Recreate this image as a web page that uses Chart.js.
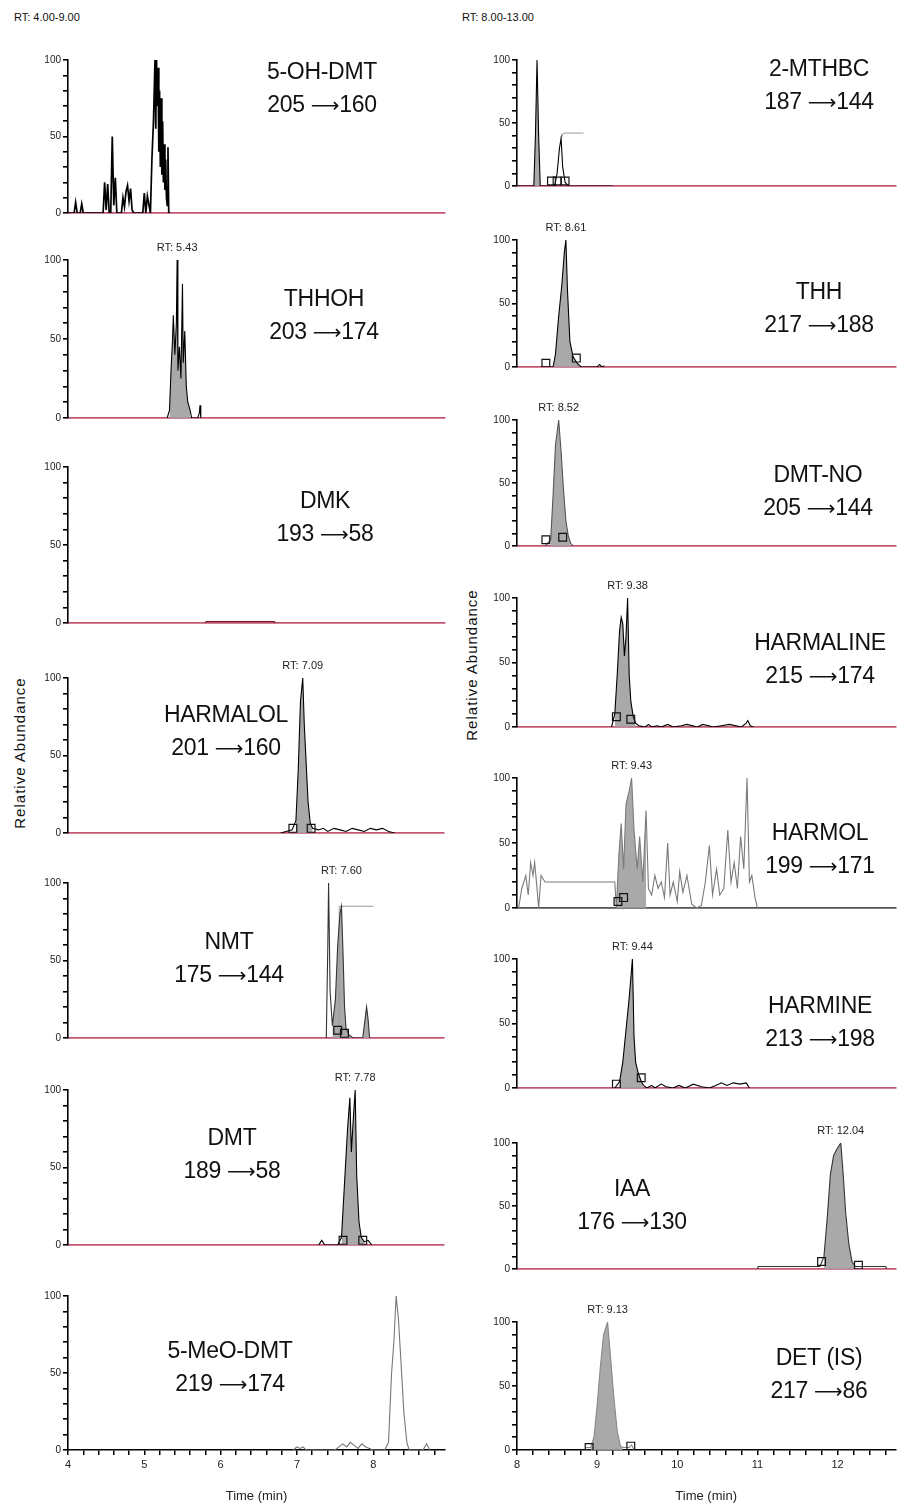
<!DOCTYPE html>
<html>
<head>
<meta charset="utf-8">
<title>MRM chromatograms</title>
<script src="https://cdn.jsdelivr.net/npm/chart.js@4.4.1/dist/chart.umd.min.js"></script>
<style>
  body { margin: 0; background: #fff; }
  #page { position: relative; width: 902px; height: 1511px; overflow: hidden;
          font-family: 'Liberation Sans', Arial, sans-serif; color: #111; }
  #page canvas { position: absolute; }
  .cmp { position: absolute; transform: translate(-50%, -50%); font-size: 23px;
         line-height: 33px; white-space: nowrap; text-align: center; letter-spacing: -0.3px; }
  .arrow { font-family: 'DejaVu Sans', sans-serif; font-size: 20px; }
  .range { position: absolute; font-size: 11px; }
  .ylab { position: absolute; font-size: 15px; white-space: nowrap; letter-spacing: 1px;
          transform: translate(-50%, -50%) rotate(-90deg); }
</style>
</head>
<body>
<div id="page">
  <div class="range" style="left:14px;top:11px;">RT: 4.00-9.00</div>
  <div class="range" style="left:462px;top:11px;">RT: 8.00-13.00</div>
  <div class="ylab" style="left:19px;top:753px;">Relative Abundance</div>
  <div class="ylab" style="left:471px;top:665px;">Relative Abundance</div>
</div>
<script>
// ---- left column traces (time in min, relative abundance in %) ----
const ohDmtTime = [
  4.00, 4.08, 4.10, 4.12, 4.16, 4.18, 4.20, 4.46, 4.48, 4.50,
  4.52, 4.54, 4.56, 4.58, 4.60, 4.62, 4.64, 4.70, 4.72, 4.74,
  4.76, 4.78, 4.80, 4.82, 4.84, 4.86, 4.98, 5.00, 5.02, 5.04,
  5.08, 5.10, 5.12, 5.13, 5.14, 5.15, 5.16, 5.17, 5.18, 5.19,
  5.20, 5.21, 5.22, 5.23, 5.24, 5.25, 5.26, 5.27, 5.28, 5.29,
  5.30, 5.31, 5.32, 5.34];
const ohDmtAbund = [
  0, 0, 7, 0, 0, 6, 0, 0, 20, 2,
  19, 0, 0, 50, 5, 23, 0, 0, 10, 4,
  14, 18, 8, 16, 2, 0, 0, 13, 0, 11,
  0, 36, 60, 80, 100, 55, 100, 70, 95, 40,
  80, 30, 75, 25, 60, 20, 45, 15, 35, 10,
  5, 43, 0, 0];

const thhohTime = [5.30, 5.33, 5.35, 5.37, 5.38, 5.40, 5.42, 5.43, 5.44, 5.46, 5.48, 5.50, 5.51, 5.53, 5.55, 5.57, 5.60, 5.62, 5.70, 5.72, 5.73, 5.74];
const thhohAbund = [0, 5, 30, 50, 65, 40, 60, 100, 30, 45, 25, 85, 35, 55, 20, 10, 5, 0, 0, 3, 8, 0];

const dmkTime = [5.80, 5.81, 6.70, 6.71];
const dmkAbund = [0, 1, 1, 0];

const harmalolTime = [6.80, 6.95, 7.00, 7.03, 7.06, 7.09, 7.11, 7.13, 7.16, 7.19, 7.22, 7.30, 7.36, 7.42, 7.50, 7.58, 7.66, 7.74, 7.82, 7.90, 7.98, 8.06, 8.14, 8.22, 8.30];
const harmalolAbund = [0, 2, 8, 40, 85, 100, 70, 50, 20, 6, 3, 2, 3, 1, 3, 2, 1, 3, 2, 1, 3, 2, 3, 1, 0];
const harmalolMarkT = [6.96, 7.20];
const harmalolMarkA = [3, 3];

const nmtTime = [7.40, 7.42, 7.43, 7.45, 7.48, 7.52, 7.55, 7.58, 7.60, 7.62, 7.64, 7.66, 7.70, 7.75, 7.88, 7.91, 7.93, 7.95, 7.97];
const nmtAbund = [0, 60, 100, 30, 8, 25, 60, 80, 85, 55, 20, 6, 2, 0, 0, 12, 20, 12, 0];
const nmtLeaderT = [7.57, 7.57, 8.02];
const nmtLeaderA = [0, 85, 85];
const nmtMarkT = [7.55, 7.64];
const nmtMarkA = [5, 3];

const dmtTime = [7.30, 7.34, 7.38, 7.55, 7.60, 7.64, 7.68, 7.71, 7.73, 7.76, 7.78, 7.80, 7.83, 7.86, 7.90, 7.95, 8.00];
const dmtAbund = [0, 3, 0, 0, 5, 40, 75, 95, 60, 85, 100, 45, 15, 5, 2, 3, 0];
const dmtMarkT = [7.62, 7.88];
const dmtMarkA = [3, 3];

const meoDmtTime = [6.95, 7.00, 7.04, 7.08, 7.12, 7.50, 7.55, 7.60, 7.65, 7.70, 7.75, 7.80, 7.85, 7.90, 7.95, 8.00, 8.15, 8.20, 8.24, 8.27, 8.30, 8.33, 8.36, 8.40, 8.44, 8.47, 8.65, 8.70, 8.74];
const meoDmtAbund = [0, 2, 1, 2, 0, 0, 2, 4, 2, 5, 3, 1, 4, 2, 1, 0, 0, 5, 50, 70, 100, 85, 60, 25, 5, 0, 0, 4, 0];

// ---- right column traces ----
const mthbcTime = [8.00, 8.21, 8.23, 8.25, 8.27, 8.29, 8.47, 8.50, 8.53, 8.55, 8.57, 8.60, 8.64, 9.20];
const mthbcAbund = [0, 0, 40, 100, 40, 0, 0, 10, 30, 38, 15, 3, 0, 0];
const mthbcLeaderT = [8.55, 8.58, 8.83];
const mthbcLeaderA = [38, 42, 42];
const mthbcMarkT = [8.43, 8.50, 8.60];
const mthbcMarkA = [4, 4, 4];

const thhTime = [8.30, 8.45, 8.48, 8.52, 8.56, 8.59, 8.61, 8.63, 8.66, 8.70, 8.75, 8.80, 9.00, 9.03, 9.06, 9.09];
const thhAbund = [0, 0, 10, 40, 65, 90, 100, 60, 20, 8, 3, 0, 0, 2, 0, 1];
const thhMarkT = [8.36, 8.74];
const thhMarkA = [3, 7];

const dmtNoTime = [8.35, 8.42, 8.45, 8.48, 8.52, 8.55, 8.58, 8.61, 8.64, 8.67, 8.70];
const dmtNoAbund = [0, 5, 40, 80, 100, 75, 45, 20, 8, 2, 0];
const dmtNoMarkT = [8.36, 8.57];
const dmtNoMarkA = [5, 7];

const harmalineTime = [
  9.18, 9.22, 9.25, 9.28, 9.30, 9.32, 9.34, 9.36, 9.38, 9.40,
  9.42, 9.45, 9.48, 9.52, 9.60, 9.64, 9.68, 9.75, 9.80, 9.88,
  9.95, 10.05, 10.12, 10.25, 10.32, 10.45, 10.55, 10.65, 10.80, 10.86,
  10.88, 10.91, 10.95];
const harmalineAbund = [
  0, 10, 40, 75, 85, 80, 55, 70, 100, 40,
  20, 8, 3, 1, 0, 2, 0, 1, 0, 2,
  0, 1, 2, 0, 2, 0, 1, 2, 0, 3,
  5, 1, 0];
const harmalineMarkT = [9.24, 9.42];
const harmalineMarkA = [8, 6];

const harmolTime = [
  8.02, 8.06, 8.11, 8.14, 8.17, 8.20, 8.22, 8.25, 8.27, 8.30,
  8.35, 9.22, 9.24, 9.27, 9.30, 9.33, 9.36, 9.40, 9.43, 9.46,
  9.50, 9.53, 9.57, 9.61, 9.64, 9.68, 9.72, 9.76, 9.80, 9.84,
  9.88, 9.91, 9.95, 10.00, 10.03, 10.07, 10.12, 10.18, 10.24, 10.30,
  10.35, 10.40, 10.44, 10.49, 10.53, 10.58, 10.63, 10.67, 10.71, 10.75,
  10.79, 10.83, 10.87, 10.90, 10.93, 10.97, 11.00];
const harmolAbund = [
  0, 15, 25, 10, 35, 25, 35, 15, 0, 25,
  20, 20, 0, 40, 65, 30, 80, 90, 100, 60,
  30, 55, 20, 75, 15, 10, 25, 15, 20, 8,
  50, 10, 20, 5, 28, 12, 25, 3, 0, 2,
  20, 48, 10, 30, 10, 15, 60, 20, 35, 15,
  55, 30, 100, 20, 25, 8, 0];
const harmolMarkT = [9.26, 9.33];
const harmolMarkA = [5, 8];

const harmineTime = [
  9.22, 9.28, 9.32, 9.36, 9.40, 9.42, 9.44, 9.46, 9.48, 9.51,
  9.55, 9.58, 9.62, 9.68, 9.72, 9.80, 9.86, 9.95, 10.02, 10.10,
  10.20, 10.30, 10.40, 10.48, 10.55, 10.62, 10.70, 10.78, 10.86, 10.90];
const harmineAbund = [
  0, 5, 20, 45, 70, 85, 100, 40, 20, 12,
  5, 2, 0, 2, 0, 3, 1, 0, 2, 0,
  3, 1, 0, 2, 4, 2, 4, 3, 4, 0];
const harmineMarkT = [9.24, 9.55];
const harmineMarkA = [3, 8];

const iaaTime = [11.00, 11.01, 11.78, 11.83, 11.87, 11.91, 11.95, 11.99, 12.04, 12.07, 12.10, 12.14, 12.18, 12.22, 12.30, 12.60, 12.61];
const iaaAbund = [0, 2, 2, 10, 40, 75, 90, 95, 100, 75, 45, 20, 6, 2, 2, 2, 0];
const iaaMarkT = [11.80, 12.26];
const iaaMarkA = [6, 3];

const detTime = [8.85, 8.92, 8.96, 9.00, 9.04, 9.08, 9.13, 9.17, 9.21, 9.25, 9.29, 9.32, 9.40, 9.43, 9.46];
const detAbund = [2, 2, 10, 35, 65, 90, 100, 70, 40, 15, 3, 2, 2, 4, 0];
const detMarkT = [8.90, 9.42];
const detMarkA = [2, 3];

// ---- panel layout ----
const leftCol = { left: 20, width: 430, xMin: 4, xMax: 8.94 };
const rightCol = { left: 469, width: 433, xMin: 8, xMax: 12.72 };
const PAD_TOP = 28;
const PINK = '#c45872';

const panels = [
  { col: leftCol, top: 60, bottom: 213, time: ohDmtTime, abund: ohDmtAbund, color: '#000', width: 1.7,
    name: ['5-OH-DMT', '205', '160'], at: [322, 88] },
  { col: leftCol, top: 260, bottom: 418, time: thhohTime, abund: thhohAbund, color: '#000', peak: [5.33, 5.60], rt: 5.43,
    name: ['THHOH', '203', '174'], at: [324, 315] },
  { col: leftCol, top: 467, bottom: 623, time: dmkTime, abund: dmkAbund, color: '#6a1024',
    name: ['DMK', '193', '58'], at: [325, 517] },
  { col: leftCol, top: 678, bottom: 833, time: harmalolTime, abund: harmalolAbund, color: '#000', peak: [7.00, 7.22], rt: 7.09,
    markT: harmalolMarkT, markA: harmalolMarkA, name: ['HARMALOL', '201', '160'], at: [226, 731] },
  { col: leftCol, top: 883, bottom: 1038, time: nmtTime, abund: nmtAbund, color: '#333', peak: [7.48, 7.97], rt: 7.60,
    leaderT: nmtLeaderT, leaderA: nmtLeaderA, markT: nmtMarkT, markA: nmtMarkA,
    name: ['NMT', '175', '144'], at: [229, 958] },
  { col: leftCol, top: 1090, bottom: 1245, time: dmtTime, abund: dmtAbund, color: '#000', peak: [7.60, 7.90], rt: 7.78,
    markT: dmtMarkT, markA: dmtMarkA, name: ['DMT', '189', '58'], at: [232, 1154] },
  { col: leftCol, top: 1296, bottom: 1450, time: meoDmtTime, abund: meoDmtAbund, color: '#777', timeAxis: true,
    name: ['5-MeO-DMT', '219', '174'], at: [230, 1367] },

  { col: rightCol, top: 60, bottom: 186, time: mthbcTime, abund: mthbcAbund, color: '#000', peak: [8.21, 8.29],
    leaderT: mthbcLeaderT, leaderA: mthbcLeaderA, markT: mthbcMarkT, markA: mthbcMarkA,
    name: ['2-MTHBC', '187', '144'], at: [819, 85] },
  { col: rightCol, top: 240, bottom: 367, time: thhTime, abund: thhAbund, color: '#000', peak: [8.45, 8.80], rt: 8.61,
    markT: thhMarkT, markA: thhMarkA, name: ['THH', '217', '188'], at: [819, 308] },
  { col: rightCol, top: 420, bottom: 546, time: dmtNoTime, abund: dmtNoAbund, color: '#555', peak: [8.42, 8.67], rt: 8.52,
    markT: dmtNoMarkT, markA: dmtNoMarkA, name: ['DMT-NO', '205', '144'], at: [818, 491] },
  { col: rightCol, top: 598, bottom: 727, time: harmalineTime, abund: harmalineAbund, color: '#000', peak: [9.22, 9.48], rt: 9.38,
    markT: harmalineMarkT, markA: harmalineMarkA, name: ['HARMALINE', '215', '174'], at: [820, 659] },
  { col: rightCol, top: 778, bottom: 908, time: harmolTime, abund: harmolAbund, color: '#7a7a7a', peak: [9.24, 9.61], rt: 9.43,
    markT: harmolMarkT, markA: harmolMarkA, base: '#555', name: ['HARMOL', '199', '171'], at: [820, 849] },
  { col: rightCol, top: 959, bottom: 1088, time: harmineTime, abund: harmineAbund, color: '#000', peak: [9.28, 9.58], rt: 9.44,
    markT: harmineMarkT, markA: harmineMarkA, name: ['HARMINE', '213', '198'], at: [820, 1022] },
  { col: rightCol, top: 1143, bottom: 1269, time: iaaTime, abund: iaaAbund, color: '#333', peak: [11.83, 12.22], rt: 12.04,
    markT: iaaMarkT, markA: iaaMarkA, name: ['IAA', '176', '130'], at: [632, 1205] },
  { col: rightCol, top: 1322, bottom: 1450, time: detTime, abund: detAbund, color: '#888', peak: [8.92, 9.32], rt: 9.13,
    markT: detMarkT, markA: detMarkA, timeAxis: true, name: ['DET (IS)', '217', '86'], at: [819, 1374] }
];

Chart.defaults.font.family = "'Liberation Sans', Arial, sans-serif";
Chart.defaults.color = '#222';

// "RT: x.xx" tag above the apex of the integrated peak
const rtLabelPlugin = {
  id: 'rtLabel',
  afterDatasetsDraw(chart, args, opts) {
    if (opts.rt == null) return;
    const ctx = chart.ctx;
    const x = chart.scales.x.getPixelForValue(opts.rt);
    ctx.save();
    ctx.font = "11px 'Liberation Sans', Arial, sans-serif";
    ctx.fillStyle = '#222';
    ctx.textAlign = 'center';
    ctx.textBaseline = 'middle';
    ctx.fillText('RT: ' + opts.rt.toFixed(2), x, chart.chartArea.top - 12);
    ctx.restore();
  }
};

const pairs = (ts, as) => ts.map((t, i) => ({ x: t, y: as[i] }));
const page = document.getElementById('page');

panels.forEach(p => {
  const col = p.col;
  const xH = p.timeAxis ? 58 : 3;
  const padBottom = p.timeAxis ? 0 : 8;
  const h = (p.bottom - p.top) + PAD_TOP + xH + padBottom;

  const canvas = document.createElement('canvas');
  canvas.width = col.width;
  canvas.height = h;
  canvas.style.left = col.left + 'px';
  canvas.style.top = (p.top - PAD_TOP) + 'px';
  canvas.style.width = col.width + 'px';
  canvas.style.height = h + 'px';
  page.appendChild(canvas);

  const pts = pairs(p.time, p.abund);
  const datasets = [{
    data: pts, borderColor: p.color, borderWidth: p.width || 1.1, order: 1
  }];
  if (p.peak) {
    datasets.push({
      data: pts.filter(d => d.x >= p.peak[0] && d.x <= p.peak[1]),
      fill: 'origin', backgroundColor: 'rgba(160,160,160,0.9)', borderWidth: 0, order: 3
    });
  }
  if (p.leaderT) {
    datasets.push({ data: pairs(p.leaderT, p.leaderA), borderColor: '#999', borderWidth: 1, order: 2 });
  }
  if (p.markT) {
    datasets.push({
      data: pairs(p.markT, p.markA), showLine: false, pointStyle: 'rect', pointRadius: 5.5,
      pointBorderColor: '#111', pointBackgroundColor: 'rgba(0,0,0,0)', pointBorderWidth: 1.2, order: 0
    });
  }

  const xScale = {
    type: 'linear', min: col.xMin, max: col.xMax,
    afterFit: s => { s.height = xH; },
    border: { display: true, color: p.timeAxis ? '#000' : (p.base || PINK), width: p.timeAxis ? 1.5 : 1.8 },
    grid: { drawOnChartArea: false, drawTicks: !!p.timeAxis, tickLength: 5, color: '#000', lineWidth: 1.5 },
    ticks: {
      display: !!p.timeAxis, stepSize: 0.2, includeBounds: false, autoSkip: false, maxRotation: 0,
      font: { size: 11 }, color: '#222',
      callback: v => Math.abs(v - Math.round(v)) < 1e-6 ? Math.round(v) : ''
    },
    title: { display: !!p.timeAxis, text: 'Time (min)', font: { size: 13 }, color: '#222', padding: { top: 2, bottom: 4 } }
  };

  new Chart(canvas, {
    type: 'line',
    data: { datasets },
    options: {
      responsive: false,
      animation: false,
      devicePixelRatio: 1,
      layout: { padding: { top: PAD_TOP, right: 5, bottom: padBottom, left: 0 } },
      elements: { point: { radius: 0 }, line: { tension: 0 } },
      plugins: { legend: { display: false }, tooltip: { enabled: false }, rtLabel: { rt: p.rt } },
      scales: {
        x: xScale,
        y: {
          min: 0, max: 100,
          afterFit: s => { s.width = 48; },
          border: { display: true, color: '#000', width: 1.6 },
          grid: { drawOnChartArea: false, drawTicks: true, tickLength: 5, color: '#000', lineWidth: 1.6 },
          ticks: {
            stepSize: 10, autoSkip: false, padding: 2, font: { size: 10 }, color: '#222',
            callback: v => v % 50 === 0 ? v : ''
          }
        }
      }
    },
    plugins: [rtLabelPlugin]
  });

  // compound name and MRM transition
  const label = document.createElement('div');
  label.className = 'cmp';
  label.style.left = p.at[0] + 'px';
  label.style.top = p.at[1] + 'px';
  label.innerHTML = p.name[0] + '<br>' + p.name[1] + ' <span class="arrow">\u27F6</span>' + p.name[2];
  page.appendChild(label);
});
</script>
</body>
</html>
